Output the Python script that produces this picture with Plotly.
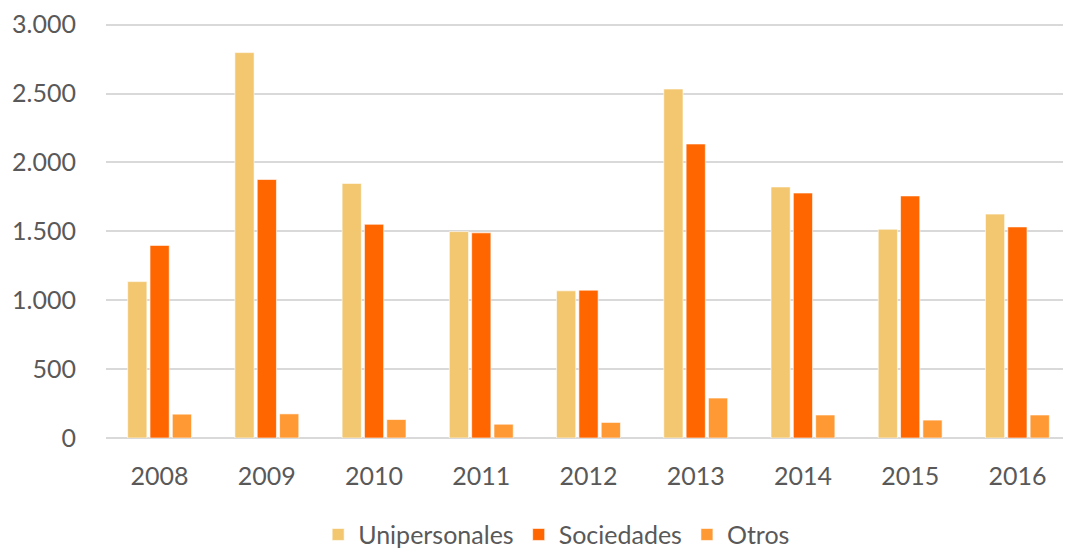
import plotly.graph_objects as go

years = ["2008", "2009", "2010", "2011", "2012", "2013", "2014", "2015", "2016"]
unipersonales = [1135, 2797, 1848, 1498, 1068, 2533, 1822, 1515, 1625]
sociedades = [1398, 1876, 1551, 1489, 1073, 2134, 1778, 1757, 1532]
otros = [173, 175, 134, 100, 113, 290, 167, 130, 167]

colors = {"Unipersonales": "#F2C770", "Sociedades": "#FF6600", "Otros": "#FF9933"}

fig = go.Figure()
for name, vals in [("Unipersonales", unipersonales), ("Sociedades", sociedades), ("Otros", otros)]:
    fig.add_trace(go.Bar(x=years, y=vals, name=name,
                         marker=dict(color=colors[name], line=dict(color="rgba(255,255,255,0.6)", width=1))))

font_family = "Lato, 'Open Sans', sans-serif"
fig.update_layout(
    width=1063, height=540,
    margin=dict(l=98, r=0, t=15, b=110, autoexpand=False),
    paper_bgcolor="white", plot_bgcolor="white",
    barmode="group", bargap=0.375, bargroupgap=0.14,
    separators=",.",
    font=dict(family=font_family, size=25, color="#595959"),
    xaxis=dict(showgrid=False, showline=False, ticks="", tickfont=dict(size=25, color="#595959"),
               ticklabelstandoff=21, automargin=False),
    yaxis=dict(range=[0, 3012], tickvals=[0, 500, 1000, 1500, 2000, 2500, 3000], tickformat=",d",
               showgrid=True, gridcolor="#D9D9D9", gridwidth=1.5, zeroline=True,
               zerolinecolor="#D9D9D9", zerolinewidth=1.5, showline=False, ticks="",
               ticklabelstandoff=29, tickfont=dict(size=25, color="#595959"), automargin=False),
    legend=dict(orientation="h", x=0.467, xanchor="center", y=-0.233, yanchor="middle",
                font=dict(size=25, color="#595959"), itemwidth=30, traceorder="normal"),
    showlegend=True,
)
fig.write_html("out.html")
